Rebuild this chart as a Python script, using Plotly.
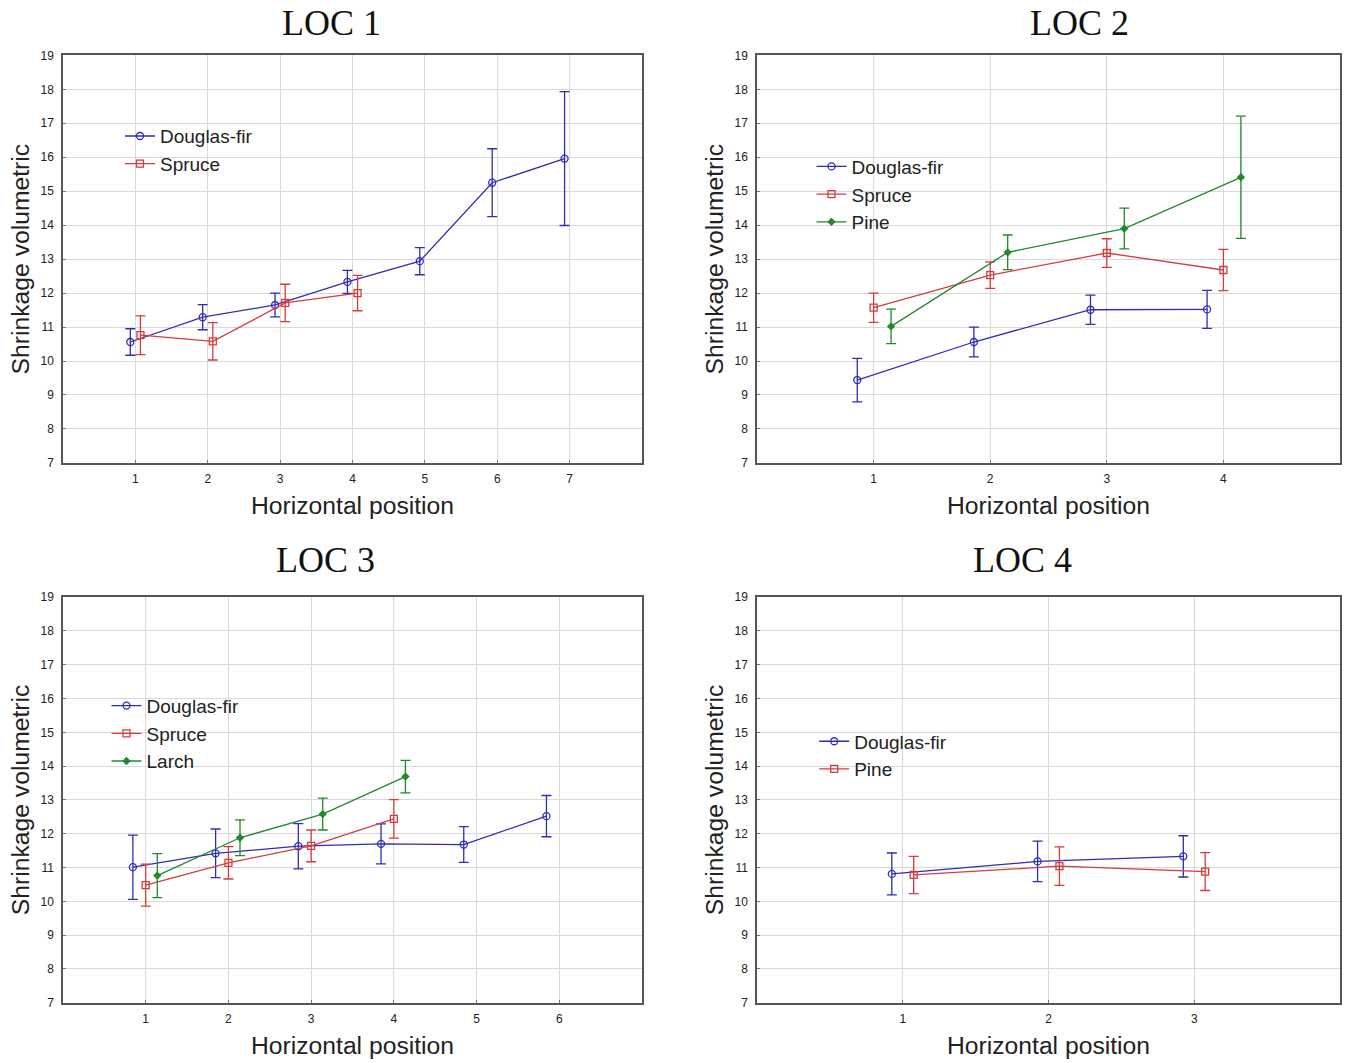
import plotly.graph_objects as go

# ---------------- data ----------------
# LOC 1
loc1_x_df = [1, 2, 3, 4, 5, 6, 7]
loc1_df = [10.56, 11.29, 11.65, 12.33, 12.94, 15.25, 15.96]
loc1_df_err = [0.39, 0.37, 0.35, 0.34, 0.40, 1.00, 1.97]
loc1_x_sp = [1, 2, 3, 4]
loc1_sp = [10.76, 10.58, 11.71, 12.00]
loc1_sp_err = [0.57, 0.55, 0.55, 0.52]

# LOC 2
loc2_x = [1, 2, 3, 4]
loc2_df = [9.44, 10.56, 11.51, 11.52]
loc2_df_err = [0.64, 0.44, 0.43, 0.56]
loc2_sp = [11.57, 12.53, 13.18, 12.68]
loc2_sp_err = [0.43, 0.39, 0.42, 0.61]
loc2_pi = [11.02, 13.20, 13.90, 15.41]
loc2_pi_err = [0.51, 0.51, 0.60, 1.80]

# LOC 3
loc3_x_df = [1, 2, 3, 4, 5, 6]
loc3_df = [11.01, 11.42, 11.63, 11.70, 11.68, 12.52]
loc3_df_err = [0.95, 0.72, 0.67, 0.59, 0.53, 0.61]
loc3_x_sp = [1, 2, 3, 4]
loc3_sp = [10.48, 11.14, 11.64, 12.44]
loc3_sp_err = [0.62, 0.48, 0.47, 0.57]
loc3_x_la = [1, 2, 3, 4]
loc3_la = [10.76, 11.88, 12.58, 13.69]
loc3_la_err = [0.65, 0.53, 0.47, 0.48]

# LOC 4
loc4_x = [1, 2, 3]
loc4_df = [10.81, 11.18, 11.33]
loc4_df_err = [0.62, 0.60, 0.61]
loc4_pi = [10.78, 11.04, 10.88]
loc4_pi_err = [0.55, 0.57, 0.56]

panel_titles = ["LOC 1", "LOC 2", "LOC 3", "LOC 4"]
x_title = "Horizontal position"
y_title = "Shrinkage volumetric"

# ---------------- style ----------------
BLUE = "#2d2db8"
RED = "#d63c3c"
GREEN = "#22882a"
SANS = "Liberation Sans, Arial"

fig = go.Figure()

def add_series(x, y, err, name, color, symbol, size, dodge, xa, ya, legend):
    fig.add_trace(go.Scatter(
        x=[v + dodge for v in x], y=y, name=name, mode="lines+markers",
        xaxis=xa, yaxis=ya, legend=legend,
        line=dict(color=color, width=1.3),
        marker=dict(symbol=symbol, size=size, color=color,
                    line=dict(color=color, width=1.3)),
        error_y=dict(type="data", array=err, visible=True, color=color,
                     thickness=1.3, width=5),
    ))

# LOC 1
add_series(loc1_x_df, loc1_df, loc1_df_err, "Douglas-fir", BLUE, "circle-open", 7, -0.07, "x", "y", "legend")
add_series(loc1_x_sp, loc1_sp, loc1_sp_err, "Spruce", RED, "square-open", 7, 0.07, "x", "y", "legend")
# LOC 2
add_series(loc2_x, loc2_df, loc2_df_err, "Douglas-fir", BLUE, "circle-open", 7, -0.14, "x2", "y2", "legend2")
add_series(loc2_x, loc2_sp, loc2_sp_err, "Spruce", RED, "square-open", 7, 0.0, "x2", "y2", "legend2")
add_series(loc2_x, loc2_pi, loc2_pi_err, "Pine", GREEN, "diamond", 5, 0.15, "x2", "y2", "legend2")
# LOC 3
add_series(loc3_x_df, loc3_df, loc3_df_err, "Douglas-fir", BLUE, "circle-open", 7, -0.155, "x3", "y3", "legend3")
add_series(loc3_x_sp, loc3_sp, loc3_sp_err, "Spruce", RED, "square-open", 7, 0.0, "x3", "y3", "legend3")
add_series(loc3_x_la, loc3_la, loc3_la_err, "Larch", GREEN, "diamond", 5, 0.14, "x3", "y3", "legend3")
# LOC 4
add_series(loc4_x, loc4_df, loc4_df_err, "Douglas-fir", BLUE, "circle-open", 7, -0.075, "x4", "y4", "legend4")
add_series(loc4_x, loc4_pi, loc4_pi_err, "Pine", RED, "square-open", 7, 0.075, "x4", "y4", "legend4")

W, H = 1348, 1063
dom_x_left = [63 / W, 642 / W]
dom_x_right = [757 / W, 1340 / W]
dom_y_top = [1 - 462 / H, 1 - 49 / H]
dom_y_bot = [1 - 1009 / H, 1 - 598 / H]

common_x = dict(showgrid=True, gridcolor="#d9d9d9", gridwidth=1, zeroline=False,
                showline=True, mirror=True, linecolor="#555555", linewidth=1.5,
                ticks="inside", ticklen=3, tickcolor="#777", ticklabelstandoff=4,
                tickfont=dict(family=SANS, size=12, color="#222"),
                title=dict(text=x_title, font=dict(family=SANS, size=24.7, color="#222"), standoff=12))
common_y = dict(showgrid=True, gridcolor="#d9d9d9", gridwidth=1, zeroline=False,
                showline=True, mirror=True, linecolor="#555555", linewidth=1.5,
                ticks="inside", ticklen=3, tickcolor="#777", ticklabelstandoff=5,
                tickfont=dict(family=SANS, size=12, color="#222"),
                range=[7, 19], dtick=1, tick0=7,
                title=dict(text=y_title, font=dict(family=SANS, size=24.7, color="#222"), standoff=4))

x_ranges = [[0, 8], [0, 5], [0, 7], [0, 4]]
x_tickvals = [[1, 2, 3, 4, 5, 6, 7], [1, 2, 3, 4], [1, 2, 3, 4, 5, 6], [1, 2, 3]]

layout = dict(
    width=W, height=H, margin=dict(l=0, r=0, t=0, b=0),
    paper_bgcolor="white", plot_bgcolor="white", showlegend=True,
    font=dict(family=SANS, color="#222"),
)
doms = [(dom_x_left, dom_y_top), (dom_x_right, dom_y_top), (dom_x_left, dom_y_bot), (dom_x_right, dom_y_bot)]
for i, (dx, dy) in enumerate(doms):
    sfx = "" if i == 0 else str(i + 1)
    layout["xaxis" + sfx] = dict(common_x, domain=dx, range=x_ranges[i], tickvals=x_tickvals[i],
                                  anchor="y" + sfx)
    layout["yaxis" + sfx] = dict(common_y, domain=dy, anchor="x" + sfx)

leg_font = dict(family=SANS, size=19, color="#222")
leg_pos = [(0.089, 0.895), (0.602, 0.866), (0.079, 0.352), (0.604, 0.318)]
for i, (lx, ly) in enumerate(leg_pos):
    key = "legend" if i == 0 else "legend" + str(i + 1)
    layout[key] = dict(x=lx, y=ly, xanchor="left", yanchor="top", bgcolor="rgba(0,0,0,0)",
                       font=leg_font, tracegroupgap=0, itemwidth=30)

fig.update_layout(**layout)

title_pos = [(331, 16), (1079, 16), (325, 560), (1022, 560)]
for t, (px, py) in zip(panel_titles, title_pos):
    fig.add_annotation(text=t, xref="paper", yref="paper", x=px / W, y=1 - py / H,
                       xanchor="center", yanchor="middle", showarrow=False,
                       font=dict(family="Liberation Serif, Times New Roman", size=36, color="#111"))

fig.write_html("out.html", config={"displayModeBar": False},
               post_script="document.body.style.margin='0';document.body.style.overflow='hidden';")
